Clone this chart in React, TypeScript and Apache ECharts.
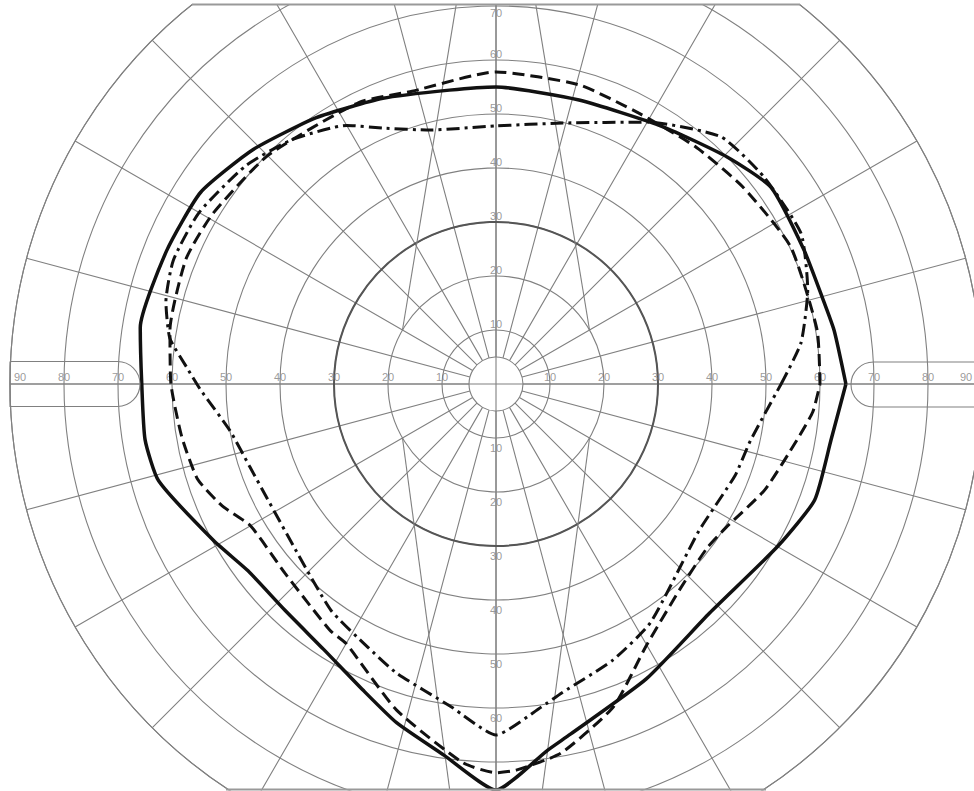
import React, { useEffect, useRef } from "react";
import * as echarts from "echarts";

// Isopter tracings: angle (degrees, counter-clockwise from the right) and eccentricity (degrees)
const solidAngle = [0, 9, 15, 23.5, 35.6, 44.5, 57, 73.7, 90, 99, 111.6, 124, 136, 147, 158, 171, 180, 189, 196, 209, 217, 227, 237, 246.5, 253.7, 262, 270, 278, 282, 297, 313, 330, 340, 350.5, 360];
const solidRadius = [64.8, 63.4, 62.5, 62.2, 62.6, 60, 56.8, 54.8, 55, 55.1, 56.9, 59.5, 62.5, 65.2, 65.8, 66.7, 65.6, 65.8, 65, 59.8, 57.5, 57.3, 58.6, 61.8, 65.4, 69.4, 75.2, 68.5, 66.3, 61.3, 58, 60.2, 62.8, 62.9, 64.8];

const dashedAngle = [0, 9.5, 25, 38.6, 50, 62, 74.5, 90, 106, 116, 135, 149, 158, 170.6, 180, 189.6, 197.7, 204, 210, 222, 236, 240, 253, 265, 270, 273, 280, 290, 300, 312, 322, 328, 338.5, 349.5, 355, 360];
const dashedRadius = [60, 60.3, 60.2, 58.5, 57.4, 56.7, 57.5, 57.8, 56.4, 58, 59.8, 61.2, 61.9, 61.2, 60.2, 59, 58, 55.5, 52.5, 52.5, 55, 55.5, 63.1, 70.4, 72, 71.6, 69.4, 63.6, 55.8, 51, 49.5, 50.2, 53.5, 56.7, 58.9, 60];

const dashDotAngle = [0, 7.7, 16.8, 26.3, 37.7, 47.7, 60, 75.6, 90, 104.6, 113.8, 120, 130, 139, 150, 159, 166, 172, 177, 181, 190, 198.6, 221, 234, 244, 251, 262, 270, 278, 282, 293, 303, 324, 339, 347.6, 360];
const dashDotRadius = [52.8, 57, 60.3, 63, 62.7, 61.9, 56, 49.9, 47.8, 48.6, 51.8, 55.3, 59, 61.5, 63.5, 64, 63, 61, 57.3, 54.8, 50, 48.1, 48.4, 51.9, 54.2, 56.6, 60.3, 65, 60.4, 58.5, 55.5, 52.6, 46.4, 47.4, 48.3, 52.8];

// Scale labels
const horizontalTicks = [10, 20, 30, 40, 50, 60, 70, 80, 90];
const upperTicks = [10, 20, 30, 40, 50, 60, 70];
const lowerTicks = [10, 20, 30, 40, 50, 60];

// Auxiliary chart guide lines (start / end as [eccentricity, angle])
const guideLines = [
  [[20, 30], [70.6, 84]],
  [[20, 150], [70.6, 96]],
  [[20, 210], [75.7, 263.5]],
  [[20, 330], [75.7, 276.5]],
];

const GRID = "#808080";

export default function App() {
  const ref = useRef<HTMLDivElement>(null);

  useEffect(() => {
    const chart = echarts.init(ref.current as HTMLDivElement, null, { renderer: "svg" });
    const center = [496, 384];
    const zip = (a: number[], r: number[]) => a.map((ang, i) => [r[i], ang]);

    const hidden = {
      axisLine: { show: false },
      axisTick: { show: false },
      axisLabel: { show: false },
      splitLine: { show: false },
      splitArea: { show: false },
    };

    const labelItems = (ticks: number[], angle: number, place: (v: number) => number[]) =>
      ticks.map((v) => ({ value: [v, angle], label: { offset: place(v) } }));

    const labels = [
      ...labelItems(horizontalTicks, 0, (v) => (v === 90 ? [-16, -7] : [0, -7])),
      ...labelItems(horizontalTicks, 180, (v) => (v === 90 ? [10, -7] : [0, -7])),
      ...labelItems(upperTicks, 90, (v) => (v === 70 ? [0, 7] : [0, -6])),
      ...labelItems(lowerTicks, 270, () => [0, 10]),
    ];

    const isopter = (data: number[][], type: any, width: number) => ({
      type: "line",
      coordinateSystem: "polar",
      polarIndex: 0,
      data,
      symbol: "none",
      smooth: 0.18,
      silent: true,
      z: 5,
      lineStyle: { color: "#111", width, type, cap: "butt" },
    });

    chart.setOption({
      animation: false,
      backgroundColor: "#ffffff",
      polar: [
        { center, radius: [27, 486] },
        { center, radius: [0, 486] },
        { center, radius: [0, 162] },
      ],
      angleAxis: [
        {
          polarIndex: 0, type: "value", min: 0, max: 360, interval: 15, startAngle: 0, clockwise: false,
          ...hidden,
          axisLine: { show: true, lineStyle: { color: GRID, width: 1.1 } },
          splitLine: { show: true, lineStyle: { color: GRID, width: 1.1 } },
        },
        {
          polarIndex: 1, type: "value", min: 0, max: 360, interval: 90, startAngle: 0, clockwise: false,
          ...hidden,
          splitLine: { show: true, lineStyle: { color: GRID, width: 1.1 } },
        },
        {
          polarIndex: 2, type: "value", min: 0, max: 360, interval: 90, startAngle: 0, clockwise: false,
          ...hidden,
          axisLine: { show: true, lineStyle: { color: "#555", width: 2 } },
        },
      ],
      radiusAxis: [
        { polarIndex: 0, type: "value", min: 5, max: 90, ...hidden },
        {
          polarIndex: 1, type: "value", min: 0, max: 90, interval: 10,
          ...hidden,
          splitLine: { show: true, lineStyle: { color: GRID, width: 1.1 } },
        },
        { polarIndex: 2, type: "value", min: 0, max: 30, ...hidden },
      ],
      series: [
        ...guideLines.map((d) => ({
          type: "line",
          coordinateSystem: "polar",
          polarIndex: 0,
          data: d,
          symbol: "none",
          silent: true,
          z: 1,
          lineStyle: { color: GRID, width: 1.1 },
        })),
        {
          type: "scatter",
          coordinateSystem: "polar",
          polarIndex: 0,
          data: labels,
          symbolSize: 0,
          silent: true,
          z: 4,
          label: {
            show: true,
            position: "inside",
            formatter: (p: any) => String(p.value[0]),
            color: "#808080",
            fontSize: 11,
            fontFamily: "Liberation Sans, Arial, sans-serif",
          },
        },
        isopter(zip(dashDotAngle, dashDotRadius), [13, 5, 3, 5], 3),
        isopter(zip(dashedAngle, dashedRadius), [12, 6], 3),
        isopter(zip(solidAngle, solidRadius), "solid", 3.5),
      ],
      graphic: [
        { type: "rect", z: 100, shape: { x: 0, y: 0, width: 974, height: 4 }, style: { fill: "#fff" } },
        { type: "rect", z: 100, shape: { x: 0, y: 790.5, width: 974, height: 2 }, style: { fill: "#fff" } },
        { type: "line", z: 101, shape: { x1: 192, y1: 4.5, x2: 800, y2: 4.5 }, style: { stroke: "#999", lineWidth: 2 } },
        { type: "line", z: 101, shape: { x1: 226, y1: 789.5, x2: 766, y2: 789.5 }, style: { stroke: "#999", lineWidth: 2 } },
        {
          type: "rect", z: 101,
          shape: { x: 10, y: 361.5, width: 130, height: 45, r: [0, 22.5, 22.5, 0] },
          style: { fill: "none", stroke: GRID, lineWidth: 1.1 },
        },
        {
          type: "rect", z: 101,
          shape: { x: 851, y: 362, width: 140, height: 45, r: [22.5, 0, 0, 22.5] },
          style: { fill: "none", stroke: GRID, lineWidth: 1.1 },
        },
      ],
    });
    return () => chart.dispose();
  }, []);

  return (
    <div
      ref={ref}
      style={{ position: "absolute", left: 0, top: 0, width: 974, height: 791, background: "#fff" }}
    />
  );
}
